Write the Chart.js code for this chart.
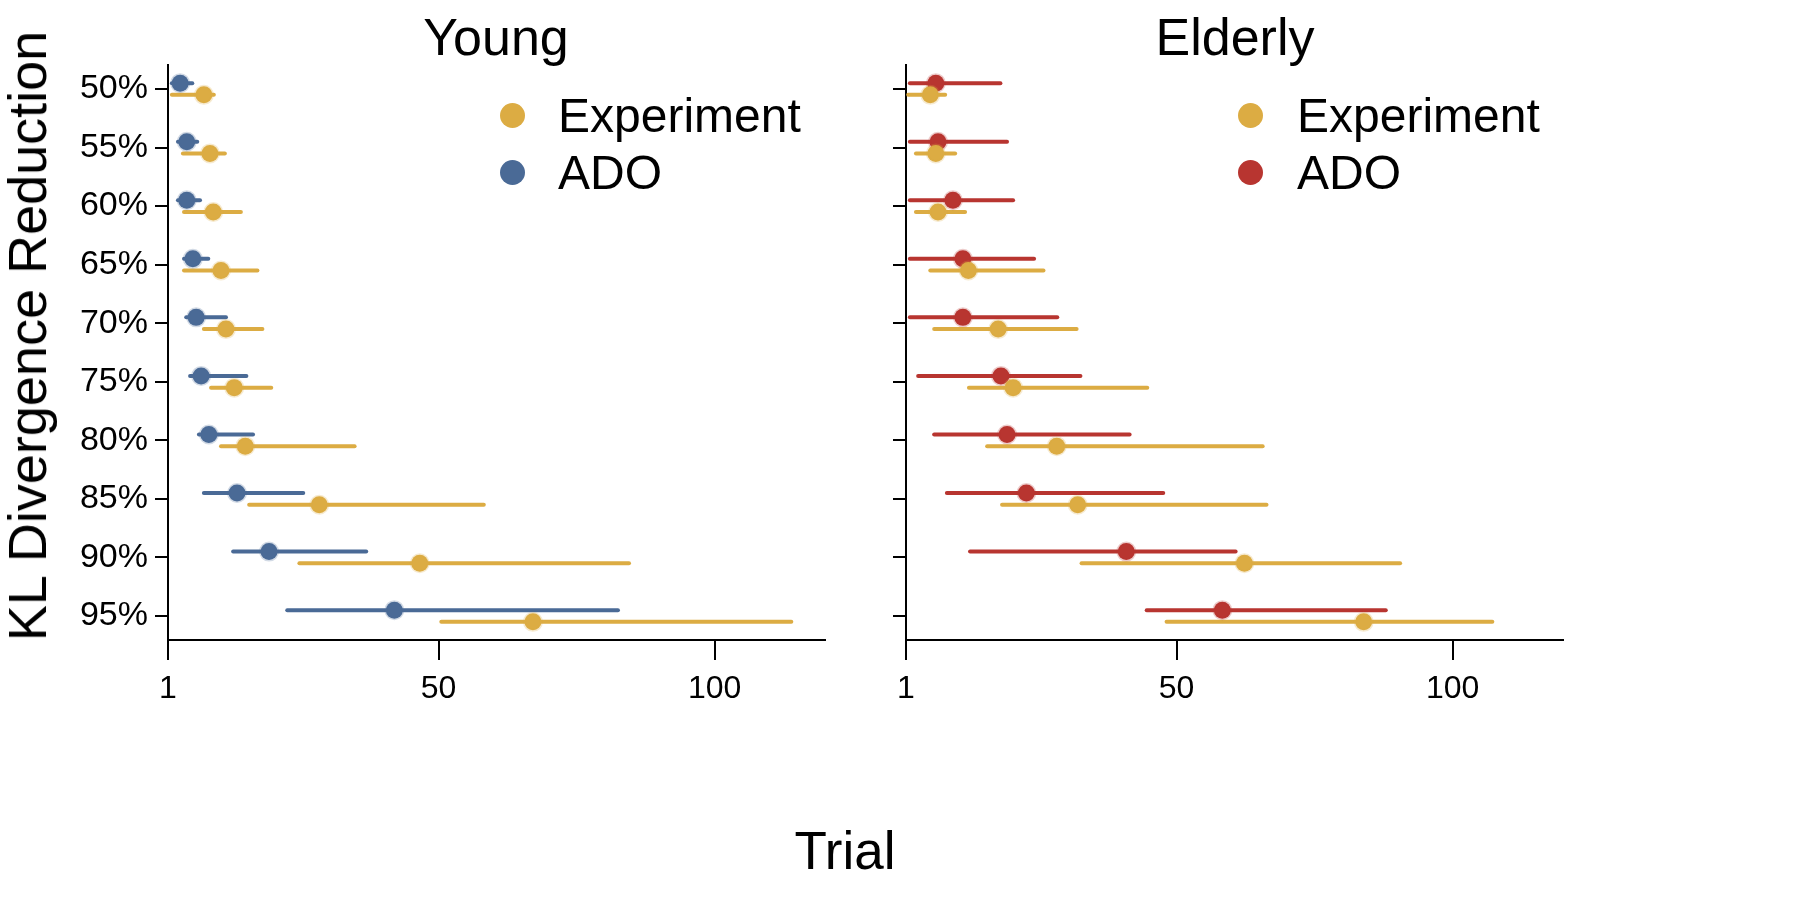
<!DOCTYPE html>
<html>
<head>
<meta charset="utf-8">
<script src="https://cdn.jsdelivr.net/npm/chart.js@4.4.1/dist/chart.umd.min.js"></script>
<style>
  html, body { margin: 0; padding: 0; background: #fff; }
  body { width: 1800px; height: 903px; position: relative; overflow: hidden;
         font-family: "Liberation Sans", Arial, sans-serif; color: #000; }
  .box { position: absolute; top: 0; height: 720px; }
  .txt { position: absolute; white-space: nowrap; line-height: 1; }
  .panelTitle { font-size: 52px; top: 11px; transform: translateX(-50%); }
  .leg { font-size: 48px; }
  .dot { position: absolute; width: 25px; height: 25px; border-radius: 50%; }
</style>
</head>
<body>
<div class="box" style="left:0;width:860px;"><canvas id="graficYoung"></canvas></div>
<div class="box" style="left:860px;width:940px;"><canvas id="graficElderly"></canvas></div>

<div class="txt panelTitle" style="left:496px;">Young</div>
<div class="txt panelTitle" style="left:1235px;">Elderly</div>

<div class="txt" style="font-size:54px;left:27px;top:336px;transform:translate(-50%,-50%) rotate(-90deg);">KL Divergence Reduction</div>
<div class="txt" style="font-size:53px;left:845px;top:850px;transform:translate(-50%,-50%);">Trial</div>

<div class="dot" style="left:500px;top:103px;background:#dcac43;"></div>
<div class="txt leg" style="left:558px;top:116px;transform:translateY(-50%);">Experiment</div>
<div class="dot" style="left:500px;top:160px;background:#4a6a96;"></div>
<div class="txt leg" style="left:558px;top:173px;transform:translateY(-50%);">ADO</div>

<div class="dot" style="left:1238px;top:103px;background:#dcac43;"></div>
<div class="txt leg" style="left:1297px;top:116px;transform:translateY(-50%);">Experiment</div>
<div class="dot" style="left:1238px;top:160px;background:#b83530;"></div>
<div class="txt leg" style="left:1297px;top:173px;transform:translateY(-50%);">ADO</div>

<script>
const COLORS = { gold: '#dcac43', blau: '#4a6a96', vermell: '#b83530' };

const nivells = ['50%', '55%', '60%', '65%', '70%', '75%', '80%', '85%', '90%', '95%'];
const xTicks = [1, 50, 100];

// Young
const youngExp   = [7.5, 8.6, 9.2, 10.6, 11.5, 13.0, 15.0, 28.4, 46.6, 67.1];
const youngExpLo = [1.7, 3.7, 3.9, 3.9, 7.5, 8.8, 10.6, 15.7, 24.8, 50.5];
const youngExpHi = [9.3, 11.3, 14.2, 17.2, 18.1, 19.7, 34.8, 58.2, 84.5, 113.9];
const youngAdo   = [3.2, 4.4, 4.4, 5.5, 6.1, 7.0, 8.4, 13.5, 19.3, 42.0];
const youngAdoLo = [1.7, 2.8, 2.8, 3.9, 4.3, 5.0, 6.6, 7.5, 12.8, 22.6];
const youngAdoHi = [5.4, 6.3, 6.8, 8.3, 11.5, 15.2, 16.4, 25.5, 36.9, 82.5];

// Elderly
const elderExp   = [5.4, 6.4, 6.8, 12.3, 17.7, 20.4, 28.3, 32.1, 62.3, 83.9];
const elderExpLo = [1.4, 2.8, 2.8, 5.4, 6.1, 12.4, 15.7, 18.4, 32.8, 48.2];
const elderExpHi = [8.1, 9.9, 11.7, 25.9, 31.9, 44.7, 65.6, 66.3, 90.5, 107.2];
const elderAdo   = [6.4, 6.8, 9.5, 11.3, 11.3, 18.2, 19.3, 22.8, 40.9, 58.3];
const elderAdoLo = [1.7, 1.7, 1.7, 1.7, 1.7, 3.2, 6.1, 8.4, 12.6, 44.6];
const elderAdoHi = [18.1, 19.3, 20.4, 24.2, 28.4, 32.6, 41.5, 47.6, 60.7, 87.9];

const DESPL = 0.1;   // separació vertical dins de cada nivell

function punts(valors, despl) {
    return valors.map((v, i) => ({ x: v, y: i + despl }));
}

function serie(label, valors, lo, hi, color, despl) {
    return {
        label,
        data: punts(valors, despl),
        errLo: lo,
        errHi: hi,
        backgroundColor: color,
        borderColor: color + '40',
        borderWidth: 3,
        pointRadius: 8.5,
        pointHoverRadius: 8.5,
        showLine: false
    };
}

// Barres d'error horitzontals, dibuixades sota els punts
const barresError = {
    id: 'barresError',
    beforeDatasetsDraw(chart) {
        const { ctx, scales: { x, y } } = chart;
        ctx.save();
        ctx.lineWidth = 4;
        ctx.lineCap = 'round';
        chart.data.datasets.forEach(ds => {
            ctx.strokeStyle = ds.backgroundColor;
            ds.data.forEach((p, i) => {
                const py = y.getPixelForValue(p.y);
                ctx.beginPath();
                ctx.moveTo(x.getPixelForValue(ds.errLo[i]), py);
                ctx.lineTo(x.getPixelForValue(ds.errHi[i]), py);
                ctx.stroke();
            });
        });
        ctx.restore();
    }
};

function buildConfig(datasets, ambEtiquetes, ampleY, padDreta) {
    return {
        type: 'scatter',
        data: { datasets },
        plugins: [barresError],
        options: {
            responsive: true,
            maintainAspectRatio: false,
            animation: false,
            events: [],
            layout: { padding: { top: 65, right: padDreta, left: 0, bottom: 0 } },
            plugins: { legend: { display: false }, tooltip: { enabled: false } },
            scales: {
                x: {
                    type: 'linear',
                    min: 1,
                    max: 120,
                    afterBuildTicks: s => { s.ticks = xTicks.map(v => ({ value: v })); },
                    afterFit: s => { s.height = 80; },
                    border: { color: '#000', width: 2 },
                    grid: { drawOnChartArea: false, tickLength: 20, color: '#000', lineWidth: 2 },
                    ticks: {
                        color: '#000', padding: 10,
                        font: { family: '"Liberation Sans", Arial, sans-serif', size: 32 }
                    }
                },
                y: {
                    type: 'linear',
                    reverse: true,
                    min: -0.41,
                    max: 9.41,
                    afterBuildTicks: s => { s.ticks = nivells.map((_, i) => ({ value: i })); },
                    afterFit: s => { s.width = ampleY; },
                    border: { color: '#000', width: 2 },
                    grid: { drawOnChartArea: false, tickLength: 13, color: '#000', lineWidth: 2 },
                    ticks: {
                        color: '#000', padding: 7,
                        callback: v => ambEtiquetes ? nivells[v] : '',
                        font: { family: '"Liberation Sans", Arial, sans-serif', size: 34 }
                    }
                }
            }
        }
    };
}

document.addEventListener('DOMContentLoaded', () => {
    new Chart(document.getElementById('graficYoung'), buildConfig([
        serie('Experiment', youngExp, youngExpLo, youngExpHi, COLORS.gold, DESPL),
        serie('ADO', youngAdo, youngAdoLo, youngAdoHi, COLORS.blau, -DESPL)
    ], true, 168, 35));

    new Chart(document.getElementById('graficElderly'), buildConfig([
        serie('Experiment', elderExp, elderExpLo, elderExpHi, COLORS.gold, DESPL),
        serie('ADO', elderAdo, elderAdoLo, elderAdoHi, COLORS.vermell, -DESPL)
    ], false, 46, 237));
});
</script>
</body>
</html>
